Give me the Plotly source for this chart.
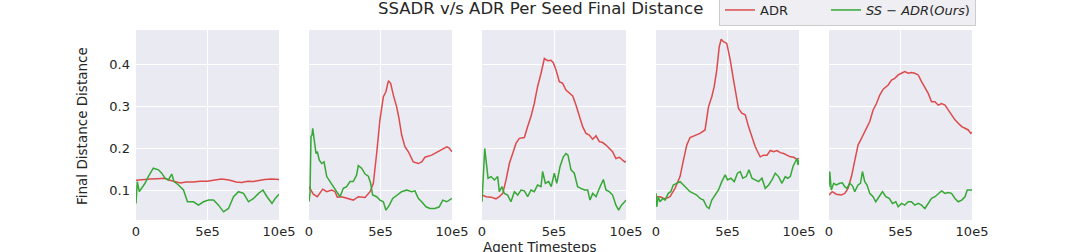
import plotly.graph_objects as go

# ---------------- data (timesteps in thousands, values = final distance) ----------------
p1_adr_x = [0, 50, 100, 150, 200, 230, 270, 310, 350, 400, 450, 500, 550, 600, 650, 700, 740, 780, 820, 860, 900, 950, 1000]
p1_adr_y = [0.123, 0.125, 0.126, 0.127, 0.128, 0.124, 0.12, 0.117, 0.119, 0.119, 0.121, 0.121, 0.124, 0.126, 0.124,
            0.119, 0.118, 0.121, 0.12, 0.123, 0.125, 0.126, 0.125]
p1_ss_x = [0, 9, 23, 40, 63, 86, 121, 157, 180, 203, 227, 250, 266, 297, 332, 360, 402, 437, 472, 507, 542, 577, 612,
           647, 682, 717, 752, 787, 822, 857, 888, 916, 951, 974, 1000]
p1_ss_y = [0.068, 0.12, 0.096, 0.104, 0.116, 0.132, 0.152, 0.148, 0.14, 0.128, 0.124, 0.138, 0.12, 0.112, 0.1, 0.072,
           0.072, 0.064, 0.072, 0.076, 0.076, 0.064, 0.048, 0.056, 0.084, 0.096, 0.092, 0.072, 0.080, 0.092, 0.10,
           0.084, 0.068, 0.080, 0.090]

p2_adr_x = [0, 30, 58, 96, 124, 159, 182, 198, 228, 263, 310, 345, 392, 427, 450, 473, 496, 520, 538, 555, 571, 590,
            613, 629, 648, 671, 695, 729, 764, 788, 811, 858, 893, 928, 963, 981, 1000]
p2_adr_y = [0.108, 0.09, 0.084, 0.102, 0.096, 0.10, 0.096, 0.083, 0.084, 0.08, 0.076, 0.084, 0.082, 0.096, 0.116,
            0.187, 0.267, 0.322, 0.334, 0.36, 0.354, 0.326, 0.298, 0.271, 0.231, 0.203, 0.191, 0.167, 0.163, 0.167,
            0.178, 0.183, 0.189, 0.195, 0.203, 0.2, 0.191]
p2_ss_x = [0, 7, 14, 21, 26, 35, 49, 58, 72, 89, 105, 124, 147, 170, 193, 217, 240, 263, 287, 310, 333, 345, 368, 392,
           415, 431, 445, 473, 496, 520, 538, 562, 585, 613, 648, 683, 718, 741, 764, 788, 818, 846, 881, 911, 935,
           963, 986, 1000]
p2_ss_y = [0.072, 0.092, 0.227, 0.231, 0.247, 0.219, 0.187, 0.191, 0.171, 0.163, 0.167, 0.132, 0.12, 0.108, 0.096,
           0.084, 0.104, 0.108, 0.12, 0.12, 0.136, 0.158, 0.152, 0.138, 0.133, 0.116, 0.088, 0.084, 0.076, 0.072,
           0.052, 0.064, 0.080, 0.088, 0.096, 0.10, 0.096, 0.098, 0.080, 0.072, 0.060, 0.056, 0.056, 0.060, 0.076,
           0.072, 0.078, 0.080]

p3_adr_x = [0, 28, 63, 97, 120, 144, 167, 190, 213, 236, 259, 294, 317, 340, 363, 386, 410, 433, 456, 479, 495, 514,
            537, 560, 583, 606, 630, 653, 676, 699, 722, 745, 768, 792, 815, 838, 861, 884, 907, 930, 954, 977, 991,
            1000]
p3_adr_y = [0.088, 0.084, 0.083, 0.079, 0.084, 0.092, 0.124, 0.163, 0.187, 0.211, 0.223, 0.225, 0.251, 0.275, 0.306,
            0.346, 0.378, 0.413, 0.408, 0.409, 0.403, 0.386, 0.358, 0.354, 0.338, 0.330, 0.324, 0.302, 0.275, 0.251,
            0.235, 0.231, 0.221, 0.229, 0.215, 0.213, 0.207, 0.199, 0.191, 0.175, 0.178, 0.171, 0.167, 0.168]
p3_ss_x = [0, 9, 19, 28, 42, 63, 86, 109, 120, 139, 155, 178, 201, 225, 248, 271, 294, 317, 340, 363, 386, 410, 421,
           440, 463, 481, 502, 519, 542, 565, 583, 597, 618, 641, 664, 687, 711, 734, 750, 769, 792, 815, 843, 861,
           884, 907, 930, 949, 968, 991, 1000]
p3_ss_y = [0.072, 0.132, 0.199, 0.171, 0.128, 0.132, 0.124, 0.132, 0.096, 0.108, 0.092, 0.088, 0.072, 0.096, 0.088,
           0.10, 0.098, 0.084, 0.10, 0.096, 0.112, 0.108, 0.144, 0.116, 0.12, 0.108, 0.140, 0.116, 0.156, 0.179,
           0.187, 0.183, 0.148, 0.140, 0.108, 0.104, 0.10, 0.10, 0.076, 0.092, 0.084, 0.104, 0.125, 0.10, 0.096,
           0.088, 0.064, 0.052, 0.064, 0.072, 0.076]

p4_adr_x = [0, 28, 63, 98, 133, 168, 192, 215, 238, 273, 308, 343, 367, 390, 407, 425, 442, 456, 472, 495, 519, 542,
            561, 577, 600, 624, 647, 671, 694, 717, 729, 752, 776, 799, 822, 846, 869, 893, 916, 939, 963, 986, 1000]
p4_adr_y = [0.084, 0.084, 0.079, 0.084, 0.104, 0.132, 0.171, 0.207, 0.225, 0.231, 0.235, 0.243, 0.298, 0.322, 0.346,
            0.386, 0.441, 0.459, 0.453, 0.449, 0.41, 0.362, 0.322, 0.294, 0.283, 0.279, 0.251, 0.227, 0.203, 0.187,
            0.179, 0.183, 0.183, 0.194, 0.191, 0.194, 0.189, 0.187, 0.183, 0.179, 0.178, 0.173, 0.175]
p4_ss_x = [0, 5, 16, 28, 47, 63, 86, 103, 121, 145, 168, 192, 215, 238, 262, 285, 308, 332, 355, 371, 390, 414, 437,
           460, 484, 500, 523, 547, 570, 589, 607, 631, 650, 671, 694, 717, 741, 764, 788, 811, 834, 857, 881, 904,
           921, 939, 958, 974, 986, 993, 1000]
p4_ss_y = [0.092, 0.06, 0.084, 0.072, 0.080, 0.076, 0.092, 0.096, 0.112, 0.116, 0.12, 0.112, 0.104, 0.096, 0.092,
           0.088, 0.080, 0.076, 0.06, 0.056, 0.076, 0.088, 0.10, 0.12, 0.136, 0.124, 0.128, 0.12, 0.140, 0.144,
           0.128, 0.132, 0.148, 0.128, 0.124, 0.12, 0.128, 0.104, 0.112, 0.124, 0.140, 0.132, 0.116, 0.132, 0.128,
           0.132, 0.156, 0.167, 0.175, 0.160, 0.171]

p5_adr_x = [0, 23, 51, 86, 110, 133, 157, 180, 203, 227, 250, 285, 308, 332, 355, 379, 414, 437, 460, 484, 507, 530,
            554, 577, 600, 624, 647, 671, 694, 717, 741, 764, 787, 811, 834, 857, 881, 904, 928, 951, 974, 991, 1000]
p5_adr_y = [0.088, 0.096, 0.09, 0.088, 0.092, 0.104, 0.132, 0.171, 0.207, 0.223, 0.239, 0.263, 0.290, 0.306, 0.326,
            0.340, 0.350, 0.362, 0.366, 0.374, 0.378, 0.382, 0.378, 0.38, 0.378, 0.374, 0.358, 0.342, 0.330, 0.310,
            0.310, 0.302, 0.306, 0.302, 0.290, 0.279, 0.267, 0.259, 0.251, 0.247, 0.243, 0.235, 0.237]
p5_ss_x = [0, 5, 16, 33, 51, 75, 93, 110, 126, 145, 164, 180, 203, 220, 234, 250, 266, 285, 308, 327, 350, 374, 397,
           421, 444, 467, 484, 507, 530, 554, 577, 600, 624, 647, 671, 694, 717, 741, 764, 787, 811, 834, 857, 881,
           904, 928, 951, 967, 986, 1000]
p5_ss_y = [0.108, 0.144, 0.10, 0.116, 0.112, 0.116, 0.117, 0.108, 0.104, 0.116, 0.11, 0.096, 0.112, 0.116, 0.144,
           0.12, 0.112, 0.092, 0.084, 0.072, 0.084, 0.096, 0.084, 0.080, 0.068, 0.072, 0.060, 0.068, 0.064, 0.072,
           0.072, 0.064, 0.068, 0.064, 0.056, 0.068, 0.080, 0.084, 0.092, 0.098, 0.092, 0.094, 0.092, 0.080, 0.072,
           0.076, 0.084, 0.10, 0.10, 0.10]

x_tick_vals = [0, 500000, 1000000]
x_tick_text = ["0", "5e5", "10e5"]
y_tick_vals = [0.1, 0.2, 0.3, 0.4]
y_tick_text = ["0.1", "0.2", "0.3", "0.4"]

panels = [
    (p1_adr_x, p1_adr_y, p1_ss_x, p1_ss_y),
    (p2_adr_x, p2_adr_y, p2_ss_x, p2_ss_y),
    (p3_adr_x, p3_adr_y, p3_ss_x, p3_ss_y),
    (p4_adr_x, p4_adr_y, p4_ss_x, p4_ss_y),
    (p5_adr_x, p5_adr_y, p5_ss_x, p5_ss_y),
]

# ---------------- styling ----------------
W, H = 1080, 252
RED = "#dc4b4b"
GREEN = "#35a835"
TXT = "#262626"
FONT = "DejaVu Sans"
px_domains = [(136, 279), (309, 452), (482, 626), (656, 799), (829, 972)]
y_dom = [1 - 220 / H, 1 - 30 / H]

fig = go.Figure()
layout = dict(
    width=W, height=H,
    margin=dict(l=0, r=0, t=0, b=0, autoexpand=False),
    paper_bgcolor="white",
    plot_bgcolor="#EAEAF2",
    font=dict(family=FONT, size=13, color=TXT),
    showlegend=True,
    hovermode=False,
)

for i, (ax, ay, sx, sy) in enumerate(panels):
    n = "" if i == 0 else str(i + 1)
    xa = "x" + n
    ya = "y" + n
    fig.add_trace(go.Scatter(x=[v * 1000 for v in ax], y=ay, mode="lines",
                             name="ADR\u00a0\u00a0\u00a0\u00a0\u00a0\u00a0\u00a0\u00a0",
                             line=dict(color=RED, width=1.5), xaxis=xa, yaxis=ya,
                             showlegend=(i == 0), legendrank=1))
    fig.add_trace(go.Scatter(x=[v * 1000 for v in sx], y=sy, mode="lines",
                             name="<i>SS</i> − <i>ADR</i>(<i>Ours</i>)",
                             line=dict(color=GREEN, width=1.5), xaxis=xa, yaxis=ya,
                             showlegend=(i == 0), legendrank=2))
    d0, d1 = px_domains[i]
    layout["xaxis" + n] = dict(
        domain=[d0 / W, d1 / W], anchor=ya, range=[0, 1000000], automargin=False,
        tickvals=x_tick_vals, ticktext=x_tick_text,
        showgrid=True, gridcolor="white", gridwidth=1.2, zeroline=False,
        showline=False, ticks="", ticklabelstandoff=2,
        tickfont=dict(size=13, color=TXT, family=FONT),
    )
    layout["yaxis" + n] = dict(
        domain=y_dom, anchor=xa, range=[0.0286, 0.481], automargin=False,
        tickvals=y_tick_vals, ticktext=y_tick_text,
        showgrid=True, gridcolor="white", gridwidth=1.2, zeroline=False,
        showline=False, ticks="", showticklabels=(i == 0), ticklabelstandoff=5,
        tickfont=dict(size=13, color=TXT, family=FONT),
    )

layout["legend"] = dict(
    orientation="h", x=976 / W, xanchor="right", y=1 + 6 / H, yanchor="top",
    bgcolor="#EEEEF3", bordercolor="#CCCCCC", borderwidth=1,
    font=dict(size=13, color=TXT, family=FONT),
    itemwidth=30, tracegroupgap=0,
)
layout["annotations"] = [
    dict(text="SSADR v/s ADR Per Seed Final Distance", x=540 / W, y=1 - 9 / H, xref="paper", yref="paper",
         xanchor="center", yanchor="middle", showarrow=False, font=dict(size=16.5, color=TXT, family=FONT)),
    dict(text="Final Distance Distance", x=82 / W, y=1 - 126 / H, xref="paper", yref="paper",
         xanchor="center", yanchor="middle", textangle=-90, showarrow=False,
         font=dict(size=13.5, color=TXT, family=FONT)),
    dict(text="Agent Timesteps", x=540 / W, y=1 - 247 / H, xref="paper", yref="paper",
         xanchor="center", yanchor="middle", showarrow=False, font=dict(size=13.5, color=TXT, family=FONT)),
]
fig.update_layout(**layout)
fig.write_html("out.html", config={"displayModeBar": False},
               post_script="document.body.style.margin='0';document.body.style.overflow='hidden';")
